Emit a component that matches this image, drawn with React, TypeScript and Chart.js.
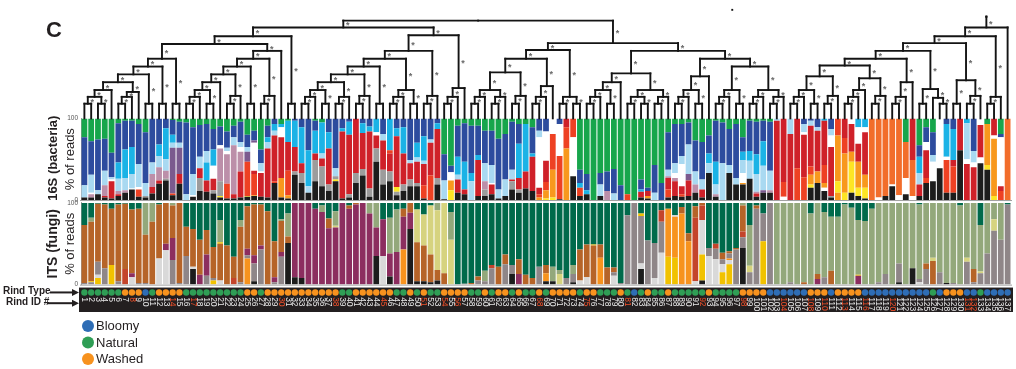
import React, { useEffect, useRef } from "react";
import { Chart, registerables } from "chart.js";

Chart.register(...registerables);

const FONT = "'Liberation Sans', Arial, Helvetica, sans-serif";

// ---------- categories ----------
const rindIds: string[] = Array.from({ length: 137 }, (_, i) => String(i + 1));
const rindTypes: string =
  "NNNNNNWWWB" + "NWWWWNNNNN" + "NNNNWWNWWW" + "WWWWWWWWNN" + "WWWWWWNNWN" +
  "WNNWWWWNNW" + "NWWNWNNWNW" + "WWWNWWNNNW" + "NBNWNNWNNN" + "NNWNNNNWWW" +
  "WBBBBBBWWW" + "BWWWWBBBBB" + "BBBBBNBWWW" + "BBNBBBB";
const redIds: number[] = [8, 14, 17, 30, 38, 45, 51, 54, 56, 68, 75, 81, 92, 98, 104, 108, 110, 113, 116, 120, 131, 132];
const legendItems: string[] = ["Bloomy", "Natural", "Washed"];
const legendCodes: string[] = ["B", "N", "W"];

// ---------- 16S composition (bottom -> top, % of reads) ----------
const bacteria16S: string[] = [
  "K3 L15 B59 G23", "K3 M4 W2 L22 B41 G28", "K7 L5 B62 G26", "K3 R2 M13 L18 B39 G25", "K2 R21 W2 L3 B30 G42",
  "K5 R2 M4 L15 C20 B48 G6", "K9 M3 L15 C35 B35 G3", "K13 W1 L18 C33 B32 G3", "K4 O9 W3 L28 B49 G7", "K3 S2 L16 B62 G17",
  "K8 R8 M16 L14 B54", "K20 R4 M16 L14 C14 B32", "K24 S2 M10 L14 C38 B12", "K6 O2 P56 L6 C10 B18 G2", "K20 R12 P32 L6 B26 G4",
  "L7 B88 G5", "K4 W2 L26 B57 G11", "K11 S16 R12 L14 B39 G8", "K10 R14 C22 L14 B33 G7", "K8 S4 R14 W16 C20 B25 G13",
  "K3 Y2 S18 M40 W4 B23 G10", "K2 O18 M36 W4 L4 B20 G16", "K2 R5 M60 L10 B14 G9", "K3 R32 M24 W6 L6 B25 G4", "K4 Y1 O42 P12 L6 B15 G20",
  "K5 A1 O26 R4 W34 P3 B12 G15", "K4 R29 W2 L10 B17 G38", "K3 R60 L8 C6 B14 G9", "K21 O2 R56 L6 C8 B7", "K3 A24 R50 W12 C4 G7",
  "K2 A4 O30 R35 C26 G3", "K31 S4 R30 C32 B3", "K21 S12 R12 C44 B11", "K9 L8 C44 B39", "K23 S26 R8 C28 B12 G3",
  "K17 S24 R10 L6 C38 G5", "K11 S8 R44 C20 B17", "K23 Y2 S4 L10 B61", "K2 R82 C4 B12", "K3 S4 R73 C16 B4",
  "K21 S12 R67", "K30 S8 R44 C12 B6", "K4 S10 R70 C6 B10", "K47 S16 R16 W4 C17", "K19 S18 R36 L8 B19",
  "K23 S12 R22 O4 C39", "K6 S4 Y6 R62 C10 B12", "K11 S8 R38 C32 B11", "K17 S8 R20 L4 B51", "K17 S4 R26 L5 C18 B30",
  "K2 O16 R26 L4 C30 B22", "O30 R40 L4 B26", "K19 S8 R60 C7 B6", "K1 L23 B32 G44", "Y12 A12 W10 B8 G58",
  "K9 R16 L6 C22 B38 G9", "K7 R6 C34 B47 G6", "L23 C10 B58 G9", "K5 R44 C6 B36 G9", "K5 S8 M10 L22 B40 G15",
  "K7 R12 W2 L22 B42 G15", "K2 L11 B62 G25", "K5 L20 B56 G19", "K13 S10 R2 L12 B59 G4", "K9 S4 R14 C42 B24 G7",
  "K14 R21 C58 G7", "K11 R42 C4 B32 G11", "A3 O4 R8 W62 L8 B15", "Y2 A10 O10 R26 W36 B16", "Y3 A34 O44 W19",
  "K1 O53 W39 B7", "A63 O26 R11", "K29 W48 O23", "K5 O10 C6 B16 G63", "K7 C5 B20 G68",
  "G100", "K5 L14 B14 G67", "M11 B24 G65", "L8 B30 G62", "B18 G82",
  "O7 G93", "G100", "K3 R7 C3 B12 G75", "K2 A3 R6 B4 G85", "L9 B34 G57",
  "B21 G79", "K3 O10 R14 M2 L8 B46 G17", "K5 R18 M4 W6 L12 B48 G7", "K4 O3 R10 W27 L10 B39 G7", "K5 R19 P8 L36 B27 G5",
  "K9 M10 L16 B38 G27", "K3 R10 L12 B46 G29", "K33 L12 C12 B22 G21", "K4 M3 L12 C28 B50 G3", "L45 B50 G5",
  "K33 L10 B44 G13", "K19 L8 B66 G7", "K19 A2 W12 L16 C10 B18 G23", "K26 L22 C12 B37 G3", "K4 R4 M2 L22 C24 B40 G4",
  "K9 P3 L30 C30 B25 G3", "K9 M3 L24 B60 G4", "R97 L3", "W4 O18 R78", "R81 L19",
  "O39 R61", "O28 R52 W3 L10 B7", "K15 Y4 A12 O10 R50 L6 B3", "K21 A14 R50 L4 B11", "K11 W4 A6 O22 R54 C3",
  "K3 S2 R60 W14 L8 B13", "A9 Y14 A56 O21", "Y9 A48 O19 R24", "K9 Y38 A12 R34 W7", "K5 Y10 A32 R22 W20 C11",
  "K2 Y13 A16 R52 W6 C11", "F100", "W3 F97", "K5 F95", "K17 W2 F81",
  "W6 F94", "K7 W20 F44 G29", "W5 F44 R51", "K5 R14 L14 C20 B14 G33", "K21 O6 R34 W10 B18 G11",
  "K23 W24 L8 B28 G17", "K39 W61", "K9 O40 W4 C40 B7", "K9 O32 R8 C38 B13", "K61 R39",
  "R44 W6 L44 C6", "R40 W6 L14 B40", "K45 W7 R40 W8", "K37 Y6 A50 G7", "Y5 A70 W4 R21",
  "O11 R6 W60 B4 G19", "F100",
];

// ---------- ITS composition (bottom -> top, % of reads) ----------
const fungiITS: string[] = [
  "Q2 N71 D27", "Q3 Y1 N73 E5 D18", "Y8 I4 Q16 N71 D1", "Q20 N78 D2", "Y24 N69 D7",
  "Q4 N94 D2", "R19 N80 D1", "I9 V5 N78 D8", "Q2 N91 D7", "Q2 N59 E39",
  "N77 E23", "I32 N66 D2", "I42 V8 N50", "Q30 V27 N40 E3", "Q2 N98",
  "Q35 N36 D29", "K19 I3 N46 D32", "V12 N43 D45", "Q11 V26 N30 D33", "Y5 Q3 N38 D54",
  "I5 N45 Y2 E27 D21", "N48 D52", "R8 N26 D66", "Q3 N68 E8 D21", "A32 Q4 V8 N52 D4",
  "K4 Q22 V10 N62 D2", "Q43 V5 N50 D2", "N90 D10", "Q3 V6 N44 D47", "Q34 V6 N38 E2 D20",
  "K51 N8 E28 D13", "K9 V91", "K8 V92", "V100", "V93 D7",
  "V89 E8 D3", "V69 N12 D19", "V70 H2 E18 D10", "V100", "V93 N4 D3",
  "V98 N2", "V100", "V87 E13", "K35 V35 E30", "I35 V45 D20",
  "K10 V28 E44 D18", "V40 E52 D8", "A43 V40 N10 D7", "K68 V20 N12", "K4 N48 H40 D8",
  "K4 N44 H38 D14", "K3 N34 H60 D3", "K5 N13 H73 E9", "N14 H86", "H55 E34 D11",
  "D100", "Q1 D99", "N2 D98", "Q5 N5 D90", "Q4 E13 D83",
  "Q20 R4 D76", "N22 D78", "Q25 N12 D63", "K13 Q11 D76", "V13 N18 D69",
  "N12 D88", "N8 D92", "Q22 D78", "K4 A10 N10 D76", "K4 E18 D78",
  "H13 E5 D82", "Q8 D92", "K3 Q10 E11 D76", "I5 N38 D57", "I9 N40 D51",
  "N48 Y1 D51", "A33 N16 D51", "N21 D79", "I11 Q4 N6 D79", "Q2 D98",
  "Q85 D15", "Q100", "K19 I7 Q58 Y3 D13", "Q54 D46", "I8 Q43 D49",
  "I39 Q38 R14 D9", "Y34 A59 D7", "Y33 A50 I2 D15", "A87 N8 D5", "A53 N10 D37",
  "I4 R78 N14 D4", "K5 Y32 I42 R18 N3", "I35 Q10 D55", "I31 Q13 R6 D50", "Y15 I10 Q6 N8 D61",
  "Y25 I5 A2 Q6 N3 D59", "Q43 N2 D55", "K45 Q13 R7 N32 E3", "Q15 H8 E50 D27", "Q93 N4 D3",
  "Y53 Q34 D13", "Q100", "E100", "E100", "Q3 E97",
  "E100", "N3 E97", "E87 D13", "V7 N6 E87", "Q9 E80 D11",
  "N17 E66 D17", "E83 D17", "E98 D2", "E94 D6", "V11 Y1 E67 D21",
  "E78 D22", "E93 D7", "Q3 E97", "Q13 E87", "E100",
  "K3 Q23 E74", "E100", "K20 E80", "I3 Q4 E91 D2", "Q19 N7 E74",
  "N29 H4 E67", "Q15 E85", "K2 E98", "Q2 E98", "E97 D3",
  "Q28 H5 E67", "Q3 N16 E81", "Q14 H2 E57 D27", "Q38 E62", "Q66 H14 E20",
  "Q55 E45", "Q98 D2",
];

// ---------- dendrogram (leaf = rind index, number after ")" = merge height) ----------
const treeG1 = "(((((1,2)15,(3,4)15)22,5)29,(((6,7)15,8)22,9)27)37,(10,11)15)45";
const treeG1b = "((" + treeG1 + ",(12,13)15)53,(14,15)15)61";
const treeG2 = "(((((16,17)15,18)22,(19,20)15)29,21)37,((22,23)15,24)23)45";
const treeG2b = "(((" + treeG2 + ",(25,26)15)53,((27,28)15,29)23)61,30)69";
const treeLA = "((" + treeG1b + "," + treeG2b + ")76,(31,32)15)84";
const treeG3 = "((((((33,34)15,35)22,(36,37)15)29,((38,39)15,40)22)37,((41,42)15,43)23)45,(44,45)15)53";
const treeG4 = "(((46,47)15,48)22,(49,50)15)29";
const treeLB1 = "((" + treeG3 + "," + treeG4 + ")61,((51,52)15,53)23)69";
const treeLB = "(" + treeLB1 + ",(((54,55)15,56)22,57)31)85";
const treeL = "(" + treeLA + "," + treeLB + ")93";
const treeM1a = "(((((58,59)15,60)22,((61,62)15,63)22)29,((64,65)15,66)23)47,(((67,68)15,69)22,70)33)61";
const treeM1 = "(" + treeM1a + ",((71,72)15,(73,74)15)22)70";
const treeM2a = "(((((75,76)15,77)22,(78,79)15)29,80)37,(((81,82)15,(83,84)15)22,((85,86)15,87)22)29)46";
const treeM2b1 = "((((88,89)15,90)22,(91,92)15)29,93)43";
const treeM2b2 = "((((94,95)15,96)22,(97,98)15)29,(((99,100)15,101)22,((102,103)15,104)22)29)53";
const treeM2 = "(" + treeM2a + ",(" + treeM2b1 + "," + treeM2b2 + ")61)69";
const treeM = "(" + treeM1 + "," + treeM2 + ")77";
const treeR4a = "(((((105,106)15,107)22,(108,109)15)29,((110,111)15,112)23)43,((((113,114)15,115)22,116)29,((117,118)15,119)23)41)54";
const treeR4 = "((" + treeR4a + ",(((120,121)15,122)22,123)37)61,((124,125)15,(126,(127,128)15)21)30)69";
const treeR5 = "((129,130)15,((131,132)15,133)23)39";
const treeR = "((((" + treeR4 + "," + treeR5 + ")77,((134,135)15,136)22)84,137)93";
const dendrogram = "((" + treeL + "," + treeM + ")100," + treeR + ")104";
const rootTop = 111;

// ---------- colours ----------
const palette16S: Record<string, string> = {
  G: "#17a64c", B: "#2d4c9e", C: "#1bb3e6", L: "#a9d9f1", W: "#ffffff", M: "#bc8fa9", P: "#7b5a8e",
  R: "#cf2129", O: "#ee4123", A: "#f8981d", F: "#f26d2b", Y: "#fde524", S: "#9c9c9c", K: "#1c1c1c",
};
const paletteITS: Record<string, string> = {
  D: "#006a4b", N: "#b66428", V: "#8c2e5f", E: "#93a87b", H: "#d6d37f", Q: "#8f8688",
  I: "#d9d9d9", A: "#f7931e", Y: "#f1c200", K: "#1c1c1c", R: "#c4442b",
};
const typeColors: Record<string, string> = { B: "#2e6db5", N: "#2f9e55", W: "#f7921e" };

type Seg = { c: string; v: number };
const parseBar = (s: string): Seg[] => s.split(" ").map((t) => ({ c: t[0], v: parseFloat(t.slice(1)) }));

function stackDatasets(bars: string[], palette: Record<string, string>, axis: string) {
  const parsed = bars.map(parseBar);
  const n = Math.max(...parsed.map((p) => p.length));
  const out: any[] = [];
  for (let k = 0; k < n; k++) {
    out.push({
      type: "bar",
      yAxisID: axis,
      stack: "columns",
      data: parsed.map((p) => (p[k] ? p[k].v : 0)),
      backgroundColor: parsed.map((p) => (p[k] ? palette[p[k].c] : "rgba(0,0,0,0)")),
      borderWidth: 0,
      barPercentage: 0.85,
      categoryPercentage: 1,
    });
  }
  return out;
}

type TNode = { leaf?: number; h: number; children?: TNode[]; x?: number };
function parseTree(s: string): TNode {
  let i = 0;
  const num = () => {
    let t = "";
    while (i < s.length && /[0-9.]/.test(s[i])) t += s[i++];
    return parseFloat(t);
  };
  const node = (): TNode => {
    if (s[i] === "(") {
      i++;
      const ch = [node()];
      while (s[i] === ",") {
        i++;
        ch.push(node());
      }
      i++;
      return { h: num(), children: ch };
    }
    return { leaf: num(), h: 0 };
  };
  return node();
}

const decorPlugin = {
  id: "decor",
  beforeDatasetsDraw(chart: any) {
    const { ctx, chartArea } = chart;
    const yS = chart.scales.yS;
    ctx.save();
    ctx.fillStyle = "#231f20";
    ctx.fillRect(chartArea.left - 2, yS.top, chartArea.right - chartArea.left + 4, yS.bottom - yS.top);
    ctx.restore();
  },
  afterDatasetsDraw(chart: any) {
    const { ctx, chartArea } = chart;
    const { x, yD, y16, yITS, yS } = chart.scales;
    const L = chartArea.left;
    const Rr = chartArea.right;
    ctx.save();

    // panel separator lines
    ctx.strokeStyle = "#9f9f9f";
    ctx.lineWidth = 1;
    [y16.bottom + 0.5, yITS.bottom + 0.5].forEach((yy: number) => {
      ctx.beginPath();
      ctx.moveTo(L - 1, yy);
      ctx.lineTo(Rr + 1, yy);
      ctx.stroke();
    });

    // dendrogram
    const tree = parseTree(dendrogram);
    const place = (n: TNode) => {
      if (n.children) {
        n.children.forEach(place);
        n.x = (n.children[0].x! + n.children[n.children.length - 1].x!) / 2;
      } else {
        n.x = x.getPixelForValue(n.leaf! - 1);
      }
    };
    place(tree);
    const yp = (h: number) => yD.getPixelForValue(h);
    const stars: { x: number; y: number }[] = [];
    ctx.strokeStyle = "#141414";
    ctx.lineWidth = 1.9;
    ctx.lineCap = "square";
    const draw = (n: TNode, parentH: number) => {
      if (!n.children) return;
      const y = yp(n.h);
      const ch = n.children;
      ctx.beginPath();
      ctx.moveTo(ch[0].x!, y);
      ctx.lineTo(ch[ch.length - 1].x!, y);
      ctx.stroke();
      ch.forEach((c) => {
        ctx.beginPath();
        ctx.moveTo(c.x!, y);
        ctx.lineTo(c.x!, yp(c.h));
        ctx.stroke();
        draw(c, n.h);
      });
      stars.push({ x: n.x! + 4.5, y: (y + yp(parentH)) / 2 });
    };
    draw(tree, rootTop);
    ctx.beginPath();
    ctx.moveTo(tree.x!, yp(tree.h));
    ctx.lineTo(tree.x!, yp(rootTop));
    ctx.stroke();
    ctx.fillStyle = "#6a6a6a";
    ctx.font = `bold 9px ${FONT}`;
    ctx.textAlign = "center";
    ctx.textBaseline = "middle";
    stars.forEach((s) => ctx.fillText("*", s.x, s.y + 2));

    // rind id labels in the strip
    ctx.font = `8.5px ${FONT}`;
    ctx.textAlign = "left";
    ctx.textBaseline = "middle";
    rindIds.forEach((id, i) => {
      const px = x.getPixelForValue(i);
      ctx.save();
      ctx.translate(px, yS.getPixelForValue(0.76));
      ctx.rotate(Math.PI / 2);
      ctx.fillStyle = redIds.includes(Number(id)) ? "#f0502a" : "#e8e8e8";
      ctx.fillText(id, 0, 0);
      ctx.restore();
    });

    // "C" panel letter
    ctx.fillStyle = "#231f20";
    ctx.font = `bold 22px ${FONT}`;
    ctx.textAlign = "left";
    ctx.textBaseline = "alphabetic";
    ctx.fillText("C", 46, 37);

    // axis titles
    const vtext = (t: string, cx: number, cy: number, font: string) => {
      ctx.save();
      ctx.translate(cx, cy);
      ctx.rotate(-Math.PI / 2);
      ctx.font = font;
      ctx.textAlign = "center";
      ctx.textBaseline = "middle";
      ctx.fillText(t, 0, 0);
      ctx.restore();
    };
    const m16 = (y16.top + y16.bottom) / 2;
    const mITS = (yITS.top + yITS.bottom) / 2;
    vtext("16S (bacteria)", 53, m16 - 1, `bold 13px ${FONT}`);
    vtext("% of reads", 70, m16, `13px ${FONT}`);
    vtext("ITS (fungi)", 53, mITS, `bold 14px ${FONT}`);
    vtext("% of reads", 70, mITS, `13px ${FONT}`);

    // Rind type / id labels with arrows
    const yType = yS.getPixelForValue(1);
    const yId = yS.getPixelForValue(0.45);
    ctx.fillStyle = "#231f20";
    ctx.font = `bold 10px ${FONT}`;
    ctx.textBaseline = "middle";
    ctx.textAlign = "left";
    ctx.fillText("Rind Type", 3, yType - 1);
    ctx.fillText("Rind ID #", 6, yId - 1);
    const arrow = (x0: number, yy: number) => {
      ctx.strokeStyle = "#231f20";
      ctx.lineWidth = 2;
      ctx.lineCap = "butt";
      ctx.beginPath();
      ctx.moveTo(x0, yy);
      ctx.lineTo(L - 8, yy);
      ctx.stroke();
      ctx.beginPath();
      ctx.moveTo(L - 2, yy);
      ctx.lineTo(L - 9, yy - 3.5);
      ctx.lineTo(L - 9, yy + 3.5);
      ctx.closePath();
      ctx.fill();
    };
    arrow(50, yType);
    arrow(47, yId);

    // legend
    legendItems.forEach((name, i) => {
      const cy = 326 + i * 16.5;
      ctx.fillStyle = typeColors[legendCodes[i]];
      ctx.beginPath();
      ctx.arc(88, cy, 6, 0, Math.PI * 2);
      ctx.fill();
      ctx.fillStyle = "#231f20";
      ctx.font = `13px ${FONT}`;
      ctx.textAlign = "left";
      ctx.textBaseline = "middle";
      ctx.fillText(name, 96, cy + 0.5);
    });

    ctx.restore();
  },
};

function fixedWidth(scale: any) {
  scale.width = 81;
}

const hiddenAxis = (weight: number, stackWeight: number, max: number) => ({
  type: "linear",
  position: "left",
  stack: "panels",
  stackWeight,
  weight,
  min: 0,
  max,
  ticks: { display: false },
  grid: { display: false, drawTicks: false },
  border: { display: false },
  afterFit: fixedWidth,
});

const panelAxis = (weight: number, stackWeight: number) => ({
  type: "linear",
  position: "left",
  stack: "panels",
  stackWeight,
  weight,
  stacked: true,
  min: 0,
  max: 100,
  ticks: {
    stepSize: 100,
    font: { size: 6.5, family: FONT },
    color: "#555555",
    padding: 3,
  },
  grid: { display: false, drawTicks: false },
  border: { display: true, color: "#9f9f9f", width: 1 },
  afterFit: fixedWidth,
});

export default function App() {
  const ref = useRef<HTMLCanvasElement | null>(null);
  useEffect(() => {
    if (!ref.current) return;
    const datasets: any[] = [
      {
        type: "line",
        yAxisID: "yS",
        data: rindIds.map(() => 1),
        showLine: false,
        pointRadius: 3.2,
        pointHoverRadius: 3.2,
        pointBorderWidth: 0,
        pointBackgroundColor: rindIds.map((_, i) => typeColors[rindTypes[i]]),
      },
      ...stackDatasets(bacteria16S, palette16S, "y16"),
      ...stackDatasets(fungiITS, paletteITS, "yITS"),
    ];
    const chart = new Chart(ref.current, {
      type: "bar",
      data: { labels: rindIds, datasets },
      options: {
        animation: false,
        responsive: false,
        maintainAspectRatio: false,
        events: [],
        layout: { padding: { left: 0, right: 5, top: 0, bottom: 57 } },
        plugins: { legend: { display: false }, tooltip: { enabled: false }, title: { display: false } },
        scales: {
          x: { type: "category", offset: true, stacked: true, display: false, grid: { display: false } },
          yD: hiddenAxis(6, 114, 114),
          y16: panelAxis(5, 83.5),
          yG1: hiddenAxis(4, 3, 1),
          yITS: panelAxis(3, 83.5),
          yG2: hiddenAxis(2, 3, 1),
          yS: hiddenAxis(1, 25, 1.25),
        } as any,
      },
      plugins: [decorPlugin],
    } as any);
    return () => chart.destroy();
  }, []);
  return (
    <div style={{ position: "absolute", left: 0, top: 0, width: 1016, height: 369, background: "#ffffff" }}>
      <canvas ref={ref} width={1016} height={369} style={{ display: "block", width: 1016, height: 369 }} />
    </div>
  );
}
